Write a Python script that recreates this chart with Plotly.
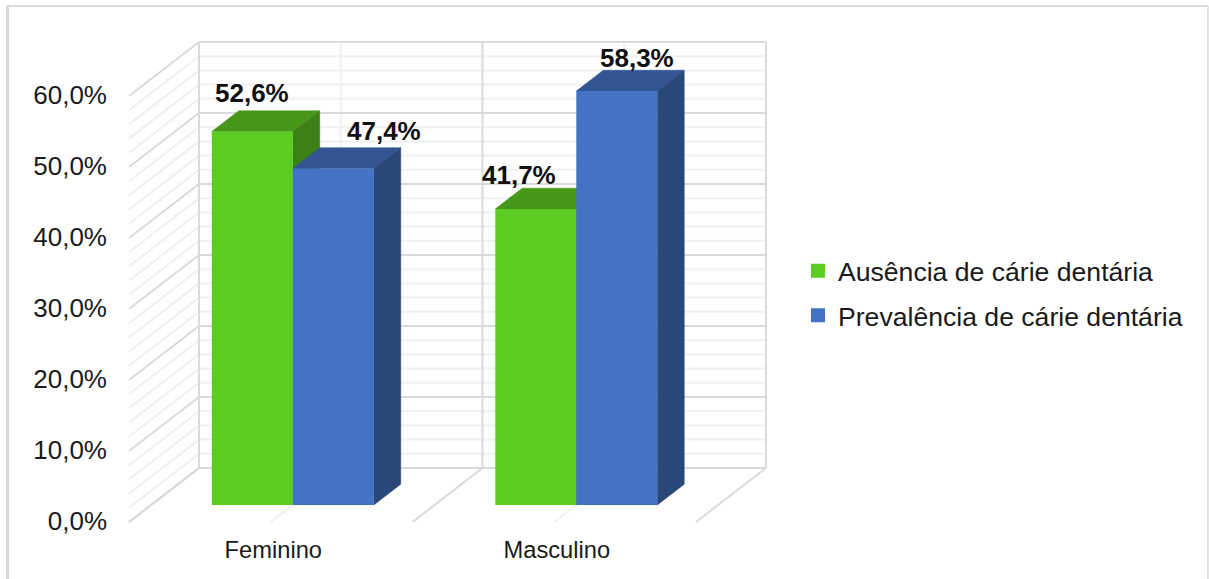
import plotly.graph_objects as go

categories = ["Feminino", "Masculino"]
series_names = ["Ausência de cárie dentária", "Prevalência de cárie dentária"]
ausencia = [52.6, 41.7]
prevalencia = [47.4, 58.3]
y_ticks = [0, 10, 20, 30, 40, 50, 60]

W, H = 1209, 579
L, B = 108, 533
X0, XU = 129, 283.5      # pixel of category origin, pixels per category
Y0, YU = 522, 7.1        # pixel of value 0 at the front floor edge, pixels per %
DX, DY = 70 / XU, 54 / YU  # oblique shift of full depth in axis units
T0, T1 = 0.315, 0.70     # bar front/back depth
BAR_W = 81 / XU
GAP_L = (1 - 2 * BAR_W) / 2


def P(x, v, t):
    return x + DX * t, v + DY * t


def fmt(v):
    return f"{v:.1f}".replace(".", ",") + "%"


MAJOR = "#DADADA"
MINOR = "#F0F0F0"
shapes = []


def seg(a, b, color, w):
    shapes.append(dict(type="line", xref="x", yref="y", x0=a[0], y0=a[1], x1=b[0], y1=b[1],
                       line=dict(color=color, width=w), layer="below"))


def poly(points, color):
    path = "M" + "L".join(f"{p[0]},{p[1]}" for p in points) + "Z"
    shapes.append(dict(type="path", xref="x", yref="y", path=path, fillcolor=color,
                       line=dict(color=color, width=0.5), layer="below"))


# minor grid first, then major
for v in range(0, 61, 2):
    if v % 10:
        seg(P(0, v, 0), P(0, v, 1), MINOR, 2)
        seg(P(0, v, 1), P(2, v, 1), MINOR, 2)
for x in (0.5, 1.5):
    seg(P(x, 0, 1), P(x, 60, 1), MINOR, 2)
    seg(P(x, 0, 0), P(x, 0, 1), MINOR, 2)
for v in y_ticks:
    seg(P(0, v, 0), P(0, v, 1), MAJOR, 2)
    seg(P(0, v, 1), P(2, v, 1), MAJOR, 2)
for x in (0, 1, 2):
    seg(P(x, 0, 1), P(x, 60, 1), MAJOR, 2)
    seg(P(x, 0, 0), P(x, 0, 1), MAJOR, 2)

series = [
    (ausencia, "#5BCD22", "#47971A", "#3C8115", 0),
    (prevalencia, "#4472C4", "#335593", "#2A4779", 1),
]

for c in range(len(categories)):
    for vals, front, top, side, s in series:
        v = vals[c]
        x0 = c + GAP_L + s * BAR_W
        x1 = x0 + BAR_W
        poly([P(x0, v, T0), P(x1, v, T0), P(x1, v, T1), P(x0, v, T1)], top)
        poly([P(x1, 0, T0), P(x1, v, T0), P(x1, v, T1), P(x1, 0, T1)], side)


# outer frame, in page pixels converted to paper fractions
def px_x(p):
    return (p - L) / (W - L)


def px_y(p):
    return (B - p) / B


for a, b, w in [((7.5, 6), (7.5, H), 3), ((7, 6), (1208, 6), 2), ((1208, 6), (1208, H), 1.5)]:
    shapes.append(dict(type="line", xref="paper", yref="paper",
                       x0=px_x(a[0]), y0=px_y(a[1]), x1=px_x(b[0]), y1=px_y(b[1]),
                       line=dict(color="#DADADA", width=w), layer="below"))

fig = go.Figure()
annotations = []
LABEL_SHIFT = {(0, 0): (0, 39), (0, 1): (51, 37), (1, 0): (-17, 34), (1, 1): (20, 33)}
for vals, front, top, side, s in series:
    xs = [c + GAP_L + (s + 0.5) * BAR_W + DX * T0 for c in range(len(categories))]
    fig.add_trace(go.Bar(
        x=xs, y=vals, base=[DY * T0] * len(vals), width=BAR_W,
        name=series_names[s], marker=dict(color=front, line=dict(width=0)),
        showlegend=False, hoverinfo="skip",
    ))
    # legend-only entry: a thicker outline gives the larger square swatch
    fig.add_trace(go.Bar(
        x=[None], y=[None], name=series_names[s], legendgroup=series_names[s],
        marker=dict(color=front, line=dict(color=front, width=3)), hoverinfo="skip",
    ))
    for c, v in enumerate(vals):
        dx, dy = LABEL_SHIFT[(c, s)]
        annotations.append(dict(
            x=xs[c], y=v + DY * T0, xref="x", yref="y", xshift=dx, yshift=dy,
            text="<b>" + fmt(v) + "</b>", showarrow=False,
            font=dict(family="Liberation Sans, Arial, sans-serif", size=26, color="#111111"),
        ))

fig.update_layout(
    width=W, height=H, autosize=False,
    margin=dict(l=L, r=0, t=0, b=H - B, pad=0),
    paper_bgcolor="white", plot_bgcolor="white",
    separators=",.",
    barmode="overlay",
    shapes=shapes, annotations=annotations,
    font=dict(family="Liberation Sans, Arial, sans-serif", color="#1a1a1a"),
    legend=dict(x=px_x(798), y=px_y(247), xanchor="left", yanchor="top",
                font=dict(size=26.6, color="#1a1a1a"), tracegroupgap=7,
                traceorder="grouped", bgcolor="rgba(0,0,0,0)", itemsizing="constant"),
    xaxis=dict(range=[(L - X0) / XU, (W - X0) / XU], tickvals=[i + 0.509 for i in range(len(categories))],
               ticktext=categories, showgrid=False, zeroline=False, showline=False, ticks="",
               tickfont=dict(size=23.7, color="#1a1a1a"), fixedrange=True),
    yaxis=dict(range=[(Y0 - B) / YU, Y0 / YU], tickvals=[v + 0.15 for v in y_ticks], ticktext=[fmt(v) for v in y_ticks],
               showgrid=False, zeroline=False, showline=False, ticks="",
               tickfont=dict(size=26, color="#1a1a1a"), fixedrange=True),
)

fig.write_html("out.html", config=dict(displayModeBar=False),
               post_script="document.body.style.margin='0';document.body.style.overflow='hidden';")
